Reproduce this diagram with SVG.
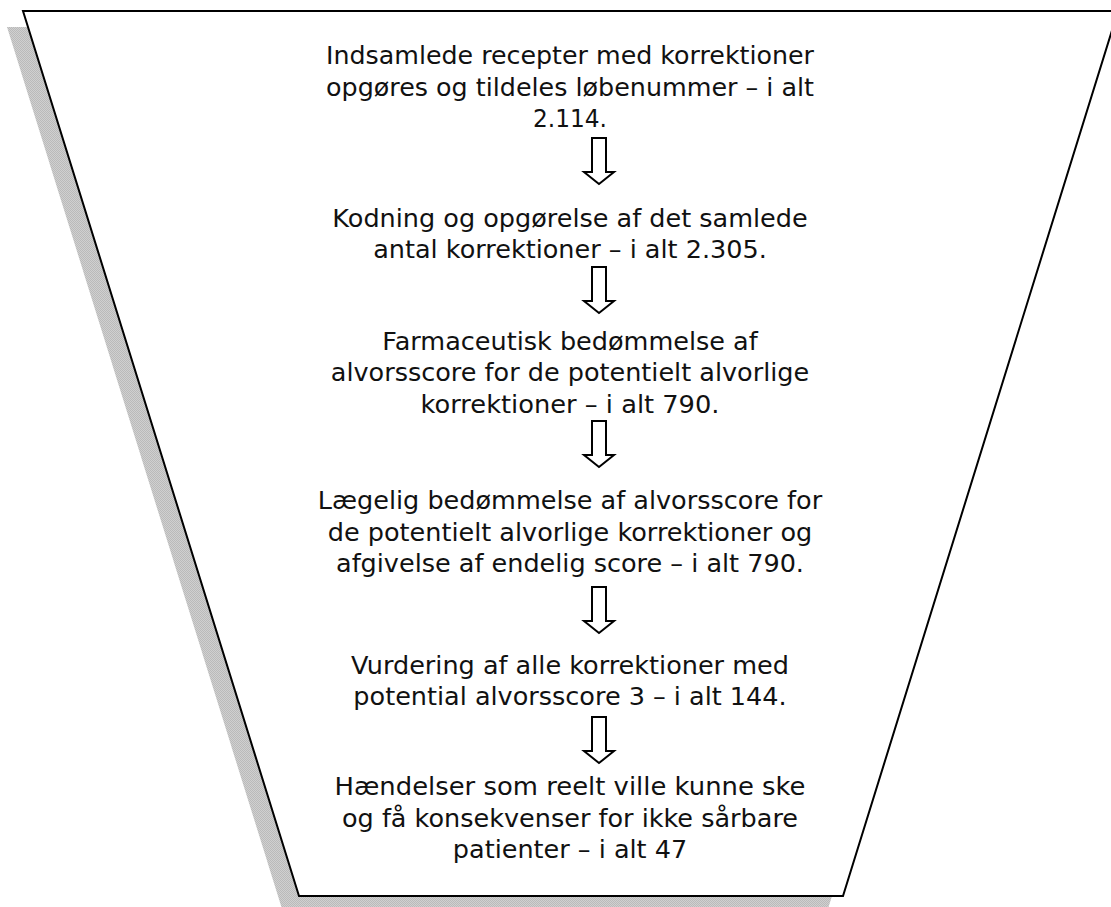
<svg xmlns="http://www.w3.org/2000/svg" xmlns:xlink="http://www.w3.org/1999/xlink" width="1111" height="907" viewBox="0 0 1111 907">
  <style>
    .t { font-family: "DejaVu Sans", "Liberation Sans", sans-serif; font-size: 25.5px; fill: #111; text-anchor: middle; }
    .arrow { fill: #fff; stroke: #000; stroke-width: 2; stroke-linejoin: miter; }
  </style>
  <defs>
    <pattern id="hatch" width="2" height="2" patternUnits="userSpaceOnUse">
      <rect width="2" height="2" fill="#d0d0d0"/>
      <rect width="1" height="1" fill="#bababa"/>
      <rect x="1" y="1" width="1" height="1" fill="#bababa"/>
    </pattern>
    <path id="arr" d="M-7,0 H7 V34 H15 L0,46 L-15,34 H-7 Z"/>
  </defs>
  <rect width="1111" height="907" fill="#fff"/>
  <g id="funnel">
    <polygon points="7,27 1102,27 827,912 283,912" fill="url(#hatch)"/>
    <polygon points="23,11 1118,11 843,896 299,896" fill="#fff" stroke="#000" stroke-width="2"/>
  </g>
  <g id="connectors">
    <use xlink:href="#arr" class="arrow" transform="translate(599,138)"/>
    <use xlink:href="#arr" class="arrow" transform="translate(599,267)"/>
    <use xlink:href="#arr" class="arrow" transform="translate(599,421)"/>
    <use xlink:href="#arr" class="arrow" transform="translate(599,587)"/>
    <use xlink:href="#arr" class="arrow" transform="translate(599,717)"/>
  </g>
  <g id="step1">
    <text class="t" x="570" y="64" textLength="488" lengthAdjust="spacingAndGlyphs">Indsamlede recepter med korrektioner</text>
    <text class="t" x="570" y="96" textLength="488" lengthAdjust="spacingAndGlyphs">opgøres og tildeles løbenummer – i alt</text>
    <text class="t" x="570" y="127" textLength="74" lengthAdjust="spacingAndGlyphs">2.114.</text>
  </g>
  <g id="step2">
    <text class="t" x="570" y="227">Kodning og opgørelse af det samlede</text>
    <text class="t" x="570" y="258">antal korrektioner – i alt 2.305.</text>
  </g>
  <g id="step3">
    <text class="t" x="570" y="350">Farmaceutisk bedømmelse af</text>
    <text class="t" x="570" y="381">alvorsscore for de potentielt alvorlige</text>
    <text class="t" x="570" y="413" textLength="299" lengthAdjust="spacingAndGlyphs">korrektioner – i alt 790.</text>
  </g>
  <g id="step4">
    <text class="t" x="570" y="509">Lægelig bedømmelse af alvorsscore for</text>
    <text class="t" x="570" y="541">de potentielt alvorlige korrektioner og</text>
    <text class="t" x="570" y="572">afgivelse af endelig score – i alt 790.</text>
  </g>
  <g id="step5">
    <text class="t" x="570" y="674">Vurdering af alle korrektioner med</text>
    <text class="t" x="570" y="705">potential alvorsscore 3 – i alt 144.</text>
  </g>
  <g id="step6">
    <text class="t" x="570" y="795" textLength="471" lengthAdjust="spacingAndGlyphs">Hændelser som reelt ville kunne ske</text>
    <text class="t" x="570" y="827" textLength="456" lengthAdjust="spacingAndGlyphs">og få konsekvenser for ikke sårbare</text>
    <text class="t" x="570" y="858">patienter – i alt 47</text>
  </g>
</svg>
